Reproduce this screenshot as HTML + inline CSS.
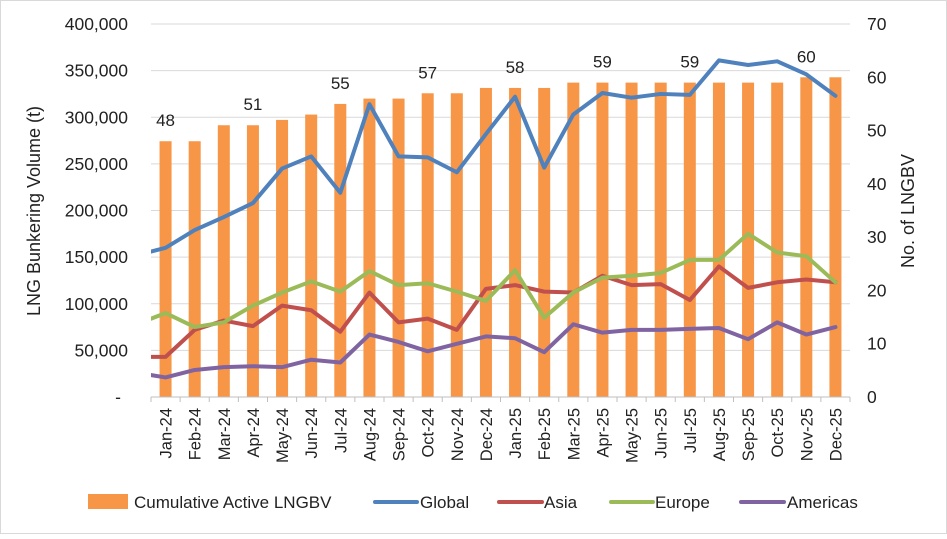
<!DOCTYPE html>
<html><head><meta charset="utf-8"><style>
body{margin:0;background:#fff;font-family:"Liberation Sans",sans-serif;}
svg text{font-family:"Liberation Sans",sans-serif;fill:#222;}
</style></head><body>
<svg id="chart" width="947" height="534" viewBox="0 0 947 534" xmlns="http://www.w3.org/2000/svg">
<defs><clipPath id="plotclip"><rect x="151" y="0" width="699" height="420"/></clipPath></defs>
<rect x="0.5" y="0.5" width="946" height="533" fill="#fff" stroke="#d9d9d9"/>
<g id="grid"></g>
<g id="bars"></g>
<g id="lines" clip-path="url(#plotclip)"></g>
<g id="axes"></g>
<text transform="translate(40,211) rotate(-90)" text-anchor="middle" font-size="18">LNG Bunkering Volume (t)</text>
<text transform="translate(914,211) rotate(-90)" text-anchor="middle" font-size="18">No. of LNGBV</text>
<g font-size="17">
<rect x="88" y="494" width="40" height="15" fill="#F79646"/>
<text x="134" y="508">Cumulative Active LNGBV</text>
<line x1="375" y1="502" x2="417" y2="502" stroke="#4F81BD" stroke-width="4" stroke-linecap="round"/>
<text x="420" y="508">Global</text>
<line x1="499" y1="502" x2="542" y2="502" stroke="#C0504D" stroke-width="4" stroke-linecap="round"/>
<text x="544" y="508">Asia</text>
<line x1="611" y1="502" x2="653" y2="502" stroke="#9BBB59" stroke-width="4" stroke-linecap="round"/>
<text x="655" y="508">Europe</text>
<line x1="741" y1="502" x2="784" y2="502" stroke="#8064A2" stroke-width="4" stroke-linecap="round"/>
<text x="787" y="508">Americas</text>
</g>
</svg>
<script>
const categories=["Jan-24","Feb-24","Mar-24","Apr-24","May-24","Jun-24","Jul-24","Aug-24","Sep-24","Oct-24","Nov-24","Dec-24","Jan-25","Feb-25","Mar-25","Apr-25","May-25","Jun-25","Jul-25","Aug-25","Sep-25","Oct-25","Nov-25","Dec-25"];
const lngbv=[48,48,51,51,52,53,55,56,56,57,57,58,58,58,59,59,59,59,59,59,59,59,60,60];
const global=[160000,179000,193000,208000,245000,258000,219000,314000,258000,257000,241000,282000,322000,246000,303000,326000,321000,325000,324000,361000,356000,360000,346000,323000];
const asia=[43000,72000,82000,76000,98000,93000,70000,112000,80000,84000,72000,116000,120000,113000,112000,130000,120000,121000,104000,140000,117000,123000,126000,123000];
const europe=[90000,75000,80000,98000,112000,124000,113000,135000,120000,122000,113000,103000,136000,85000,112000,128000,130000,133000,147000,147000,175000,155000,151000,123000];
const americas=[21000,29000,32000,33000,32000,40000,37000,67000,59000,49000,57000,65000,63000,48000,78000,69000,72000,72000,73000,74000,62000,80000,67000,75000];
const priorValues=[152000,43000,78000,26000];
const leftTicks=[0,50000,100000,150000,200000,250000,300000,350000,400000];
const rightTicks=[0,10,20,30,40,50,60,70];
const barLabelIdx=[0,3,6,9,12,15,18,22];

const NS="http://www.w3.org/2000/svg";
const X0=151,X1=850,Y0=397,Y1=24;
const band=(X1-X0)/categories.length;
const xc=i=>X0+band*(i+0.5);
const yL=v=>Y0-(v/400000)*(Y0-Y1);
const yR=v=>Y0-(v/70)*(Y0-Y1);
function mk(tag,attrs,parent){const e=document.createElementNS(NS,tag);for(const k in attrs)e.setAttribute(k,attrs[k]);parent.appendChild(e);return e;}
const gG=document.getElementById('grid'),gB=document.getElementById('bars'),gL=document.getElementById('lines'),gA=document.getElementById('axes');
leftTicks.forEach(v=>{
  if(v===0)return;
  const g=mk('line',{x1:X0,y1:yL(v),x2:X1,y2:yL(v),stroke:'#d9d9d9','stroke-width':1},gG);
  
  
});
lngbv.forEach((v,i)=>{
  const r=mk('rect',{x:xc(i)-6,y:yR(v),width:12,height:Y0-yR(v),fill:'#F79646'},gB);
  
  
});
barLabelIdx.forEach(i=>{
  const t=mk('text',{x:xc(i),y:yR(lngbv[i])-15,'text-anchor':'middle','font-size':17},gB);
  t.textContent=lngbv[i];
  
  
});
[[americas,'#8064A2','americas',3],[asia,'#C0504D','asia',1],[europe,'#9BBB59','europe',2],[global,'#4F81BD','global',0]].forEach(([d,c,n,k])=>{
  const pts=[xc(-1)+','+yL(priorValues[k])].concat(d.map((v,i)=>xc(i)+','+yL(v)));
  const p=mk('polyline',{points:pts.join(' '),fill:'none',stroke:c,'stroke-width':4,'stroke-linejoin':'round','stroke-linecap':'round'},gL);
  
  
});
const ax=mk('line',{x1:X0,y1:Y0,x2:X1,y2:Y0,stroke:'#bfbfbf','stroke-width':1},gA);


for(let i=0;i<=categories.length;i++){
  const tk=mk('line',{x1:X0+band*i,y1:Y0,x2:X0+band*i,y2:Y0+5,stroke:'#bfbfbf','stroke-width':1},gA);
  
  
}
leftTicks.forEach(v=>{
  const t=mk('text',{x:v===0?121:128,y:yL(v)+6,'text-anchor':'end','font-size':17.5},gA);
  t.textContent=v===0?'-':v.toLocaleString('en-US');
  
  
});
rightTicks.forEach(v=>{
  const t=mk('text',{x:867,y:yR(v)+6,'text-anchor':'start','font-size':17.5},gA);
  t.textContent=v;
  
  
});
categories.forEach((c,i)=>{
  const t=mk('text',{transform:'translate('+(xc(i)+6)+',408) rotate(-90)','text-anchor':'end','font-size':16.5},gA);
  t.textContent=c;
  
  
});
</script>
</body></html>
